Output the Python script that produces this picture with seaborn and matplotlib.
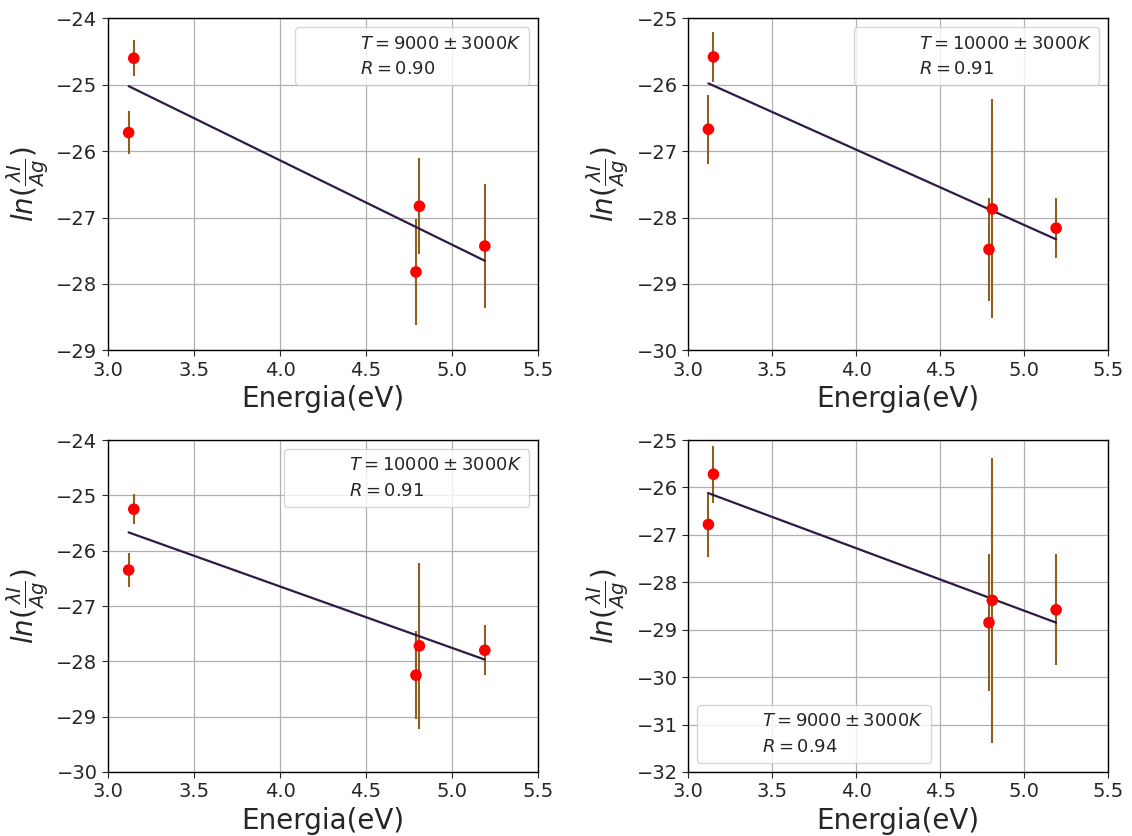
import numpy as np
import pandas as pd
import seaborn as sns
import matplotlib
matplotlib.use("Agg")
import matplotlib.pyplot as plt

# Energias de las lineas (eV)
energia = [3.12, 3.15, 4.79, 4.81, 5.19]

# ln(lambda I / A g) por panel, con sus errores
ln_1 = [-25.72, -24.60, -27.82, -26.83, -27.43]
err_1 = [0.33, 0.27, 0.80, 0.72, 0.93]
ln_2 = [-26.67, -25.58, -28.48, -27.87, -28.16]
err_2 = [0.52, 0.38, 0.78, 1.65, 0.45]
ln_3 = [-26.35, -25.25, -28.25, -27.72, -27.80]
err_3 = [0.30, 0.27, 0.80, 1.50, 0.45]
ln_4 = [-26.78, -25.72, -28.85, -28.38, -28.58]
err_4 = [0.69, 0.60, 1.45, 3.00, 1.17]

# recta de ajuste (pendiente, ordenada)
pendientes = [-1.271, -1.135, -1.111, -1.319]
ordenadas = [-21.055, -22.438, -22.203, -22.005]

temperaturas = [9000, 10000, 10000, 9000]
errores_T = [3000, 3000, 3000, 3000]
coef_R = [0.90, 0.91, 0.91, 0.94]

ylims = [(-29, -24), (-30, -25), (-30, -24), (-32, -25)]
legend_loc = ["upper right", "upper right", "upper right", "lower left"]

sns.set_style("white")
plt.rcParams["mathtext.fontset"] = "dejavusans"

fig = plt.figure(figsize=(11.32, 8.36), dpi=100)
posiciones = [
    [0.0954, 0.581, 0.380, 0.397],
    [0.608, 0.581, 0.371, 0.397],
    [0.0954, 0.0766, 0.380, 0.397],
    [0.608, 0.0766, 0.371, 0.397],
]

datos = [(ln_1, err_1), (ln_2, err_2), (ln_3, err_3), (ln_4, err_4)]

for i, (ln_vals, errs) in enumerate(datos):
    ax = fig.add_axes(posiciones[i])
    df = pd.DataFrame({"E": energia, "ln": ln_vals, "err": errs})

    ax.errorbar(df["E"], df["ln"], yerr=df["err"], fmt="none",
                ecolor="#8c5f22", elinewidth=1.5, zorder=2)
    sns.scatterplot(data=df, x="E", y="ln", color="red", s=70,
                    edgecolor="none", ax=ax, zorder=3)

    x_fit = np.array([min(energia), max(energia)])
    df_fit = pd.DataFrame({"E": x_fit, "y": ordenadas[i] + pendientes[i] * x_fit})
    sns.lineplot(data=df_fit, x="E", y="y", color="#2e1a47", linewidth=1.6,
                 ax=ax, zorder=2)

    # entradas de leyenda sin marcador
    ax.plot([], [], " ", label=r"$T = %d \pm %d K$" % (temperaturas[i], errores_T[i]))
    ax.plot([], [], " ", label=r"$R = %.2f$" % coef_R[i])
    ax.legend(loc=legend_loc[i], fontsize=13, handlelength=2.4,
              borderpad=0.4, labelspacing=0.4)

    ax.set_xlim(3.0, 5.5)
    ax.set_ylim(*ylims[i])
    ax.set_xticks(np.arange(3.0, 5.51, 0.5))
    ax.grid(True, color="#b0b0b0", linewidth=0.9)
    ax.tick_params(labelsize=14, length=4, direction="out", bottom=True, left=True)
    for sp in ax.spines.values():
        sp.set_color("black")
        sp.set_linewidth(1.0)
    ax.set_xlabel("Energia(eV)", fontsize=20)
    ax.set_ylabel(r"$ln(\frac{\lambda I}{A g})$", fontsize=20)

fig.savefig("out.png", dpi=100)
